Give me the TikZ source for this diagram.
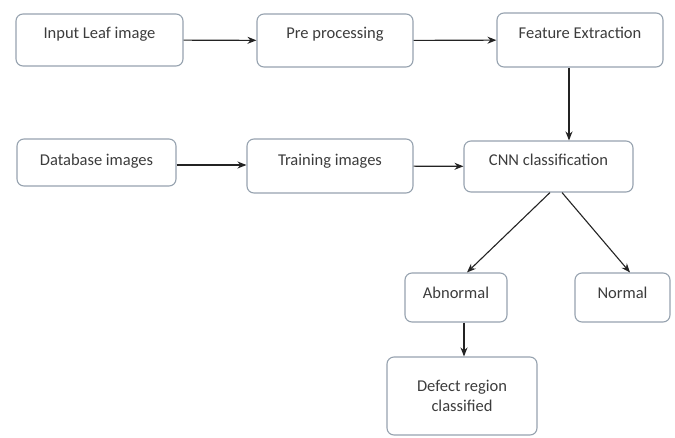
\documentclass[tikz,border=0pt]{standalone}
\usepackage{fontspec}
\setmainfont{Carlito}
\usetikzlibrary{arrows.meta}

\definecolor{boxline}{RGB}{150,162,175}
\definecolor{boxtext}{RGB}{60,60,60}
\definecolor{arrowline}{RGB}{35,35,35}

\tikzset{
  box/.style={draw=boxline, line width=1.1pt, rounded corners=7pt, text=boxtext,
    font=\fontsize{16.5}{20}\selectfont, inner sep=2pt, text height=12pt, text depth=16pt},
  flow/.style={->, draw=arrowline, line width=1.1pt}
}

\begin{document}
\begin{tikzpicture}[x=1pt, y=-1pt, >={Stealth[length=9pt,width=7pt]}]
  \useasboundingbox (0,0) rectangle (675,437);

  % Top row
  \node[box, minimum width=167pt, minimum height=52pt] (leaf) at (99.5,40) {Input Leaf image};
  \node[box, minimum width=156pt, minimum height=53pt] (prep) at (335,40.5) {Pre processing};
  \node[box, minimum width=166pt, minimum height=54pt] (feat) at (580,40) {Feature Extraction};

  % Middle row
  \node[box, minimum width=159pt, minimum height=47pt, text depth=7pt] (db) at (96.5,162.5) {Database images};
  \node[box, minimum width=166pt, minimum height=54pt, text depth=14pt] (train) at (330,166) {Training images};
  \node[box, minimum width=169pt, minimum height=51pt, text depth=15pt] (cnn) at (548.5,166.5) {CNN classification};

  % Results
  \node[box, minimum width=102pt, minimum height=49pt, text depth=11pt] (abn) at (456,297.5) {Abnormal};
  \node[box, minimum width=95pt, minimum height=49pt, text depth=11pt] (norm) at (622.5,297.5) {Normal};
  \node[box, minimum width=150pt, minimum height=78pt, text height=, text depth=, align=center] (defect) at (462,396) {Defect region\\classified};

  % Arrows
  \draw[flow] (leaf) -- (prep);
  \draw[flow] (prep) -- (feat);
  \draw[flow] ([xshift=-11pt]feat.south) -- ([xshift=-11pt]feat.south |- cnn.north);
  \draw[flow] ([yshift=-2.5pt]db.east) -- ([yshift=-2.5pt]db.east -| train.west);
  \draw[flow] (train) -- (cnn);
  \draw[flow] ([xshift=1.5pt]cnn.south) -- ([xshift=11pt]abn.north);
  \draw[flow] ([xshift=13.5pt]cnn.south) -- ([xshift=7.5pt]norm.north);
  \draw[flow] ([xshift=8pt]abn.south) -- ([xshift=8pt]abn.south |- defect.north);
\end{tikzpicture}
\end{document}
